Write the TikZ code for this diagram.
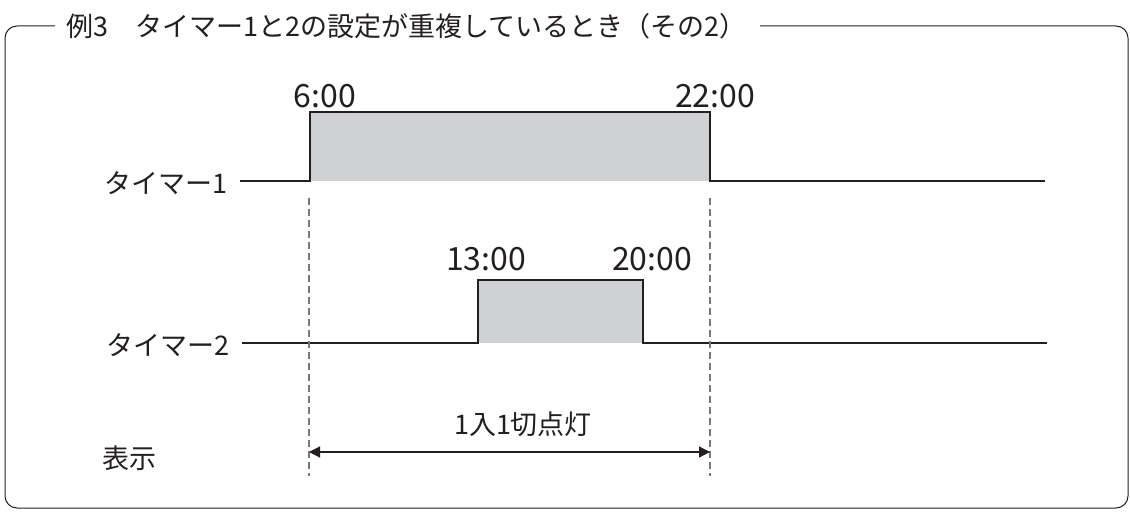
\documentclass[tikz,border=0pt]{standalone}
\usepackage{fontspec}
\setmainfont{Noto Sans CJK JP}
\usetikzlibrary{arrows.meta}

\definecolor{ink}{RGB}{35,31,32}
\definecolor{ongray}{RGB}{208,209,211}
\definecolor{guide}{RGB}{120,120,120}

\tikzset{
  signal/.style={draw=ink, line width=2pt},
  onfill/.style={fill=ongray},
  guideline/.style={draw=guide, line width=1.3pt, dash pattern=on 7pt off 4pt},
  rowlabel/.style={text=ink, font=\fontsize{27}{30}\selectfont, inner sep=0pt},
  timelabel/.style={text=ink, font=\fontsize{32}{34}\selectfont, inner sep=0pt},
}

\begin{document}
\begin{tikzpicture}[x=1pt,y=-1pt]
\useasboundingbox (0,0) rectangle (1130,513);

% frame and title
\draw[ink, line width=1pt, rounded corners=12pt] (55,26) -- (5,26) -- (5,508) -- (1128,508) -- (1128,26) -- (760,26);
\node[rowlabel, anchor=west] (title) at (66,26) {例3　タイマー1と2の設定が重複しているとき（その2）};

% row labels
\node[rowlabel, anchor=east] (t1) at (228,183) {タイマー1};
\node[rowlabel, anchor=east] (t2) at (230,345) {タイマー2};
\node[rowlabel, anchor=west] (disp) at (102,458) {表示};

% timer 1
\fill[onfill] (310,112) rectangle (710,181);
\draw[signal] (240,181) -- (310,181) -- (310,112) -- (710,112) -- (710,181) -- (1045,181);
\node[timelabel] (on1) at (325,96) {6:00};
\node[timelabel] (off1) at (715,96) {22:00};

% timer 2
\fill[onfill] (478,280) rectangle (643,343);
\draw[signal] (242,343) -- (478,343) -- (478,280) -- (643,280) -- (643,343) -- (1047,343);
\node[timelabel] (on2) at (486,259) {13:00};
\node[timelabel] (off2) at (652,259) {20:00};

% guides
\coordinate (ga) at (309,198);
\coordinate (gb) at (710,198);
\coordinate (ea) at (309,452);
\coordinate (eb) at (710,452);
\draw[guideline] (ga) -- (309,476);
\draw[guideline] (gb) -- (710,476);

% display
\draw[ink, line width=1.2pt, {Triangle[length=11pt,width=11pt]}-{Triangle[length=11pt,width=11pt]}] (ea) -- (eb);
\node[rowlabel] (mode) at (523,424) {1入1切点灯};

\end{tikzpicture}
\end{document}
